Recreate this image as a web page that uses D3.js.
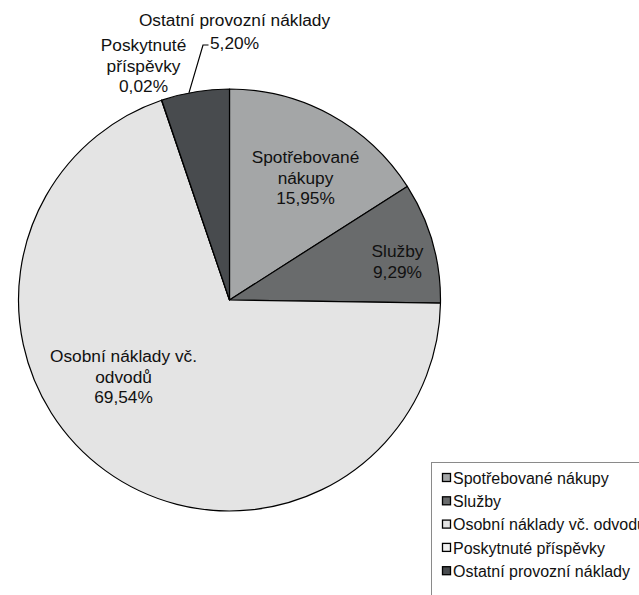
<!DOCTYPE html>
<html>
<head>
<meta charset="utf-8">
<script src="https://cdn.jsdelivr.net/npm/d3@7"></script>
<style>
  body { margin: 0; background: #fff; }
  svg { display: block; font-family: "Liberation Sans", Arial, sans-serif; }
</style>
</head>
<body>
<svg id="chart" width="639" height="595"></svg>
<script>
// data
var categories = ["Spotřebované nákupy", "Služby", "Osobní náklady vč. odvodů", "Poskytnuté příspěvky", "Ostatní provozní náklady"];
var values = [15.95, 9.29, 69.54, 0.02, 5.20];
var colors = ["#a4a6a7", "#696b6c", "#e4e4e4", "#f0f0f0", "#484b4e"];
// label lines as drawn on the chart
var labelLines = [
  ["Spotřebované", "nákupy", "15,95%"],
  ["Služby", "9,29%"],
  ["Osobní náklady vč.", "odvodů", "69,54%"],
  ["Poskytnuté", "příspěvky", "0,02%"],
  ["Ostatní provozní náklady", "5,20%"]
];

var width = 639, height = 595;
var cx = 229.5, cy = 300, radius = 211;

var svg = d3.select('#chart');

var pie = d3.pie().sort(null).value(function(d) { return d; });
var arcs = pie(values);
var arc = d3.arc().innerRadius(0).outerRadius(radius);

var g = svg.append('g').attr('transform', 'translate(' + cx + ',' + cy + ')');

g.selectAll('path')
  .data(arcs)
  .enter()
  .append('path')
  .attr('d', arc)
  .attr('fill', function(d, i) { return colors[i]; })
  .attr('stroke', '#000')
  .attr('stroke-width', 1.2)
  .attr('stroke-linejoin', 'round');

// label anchors (relative to pie centre), first line centre
var labelAt = [
  [76, -143],
  [168, -49],
  [-106, 56],
  [-86, -255],
  [5, -280]
];
var lineH = 20.5;

labelLines.forEach(function(lines, i) {
  var t = g.append('text')
    .attr('text-anchor', 'middle')
    .attr('font-size', 17.3)
    .attr('fill', '#111');
  lines.forEach(function(s, j) {
    t.append('tspan')
      .attr('x', labelAt[i][0])
      .attr('y', labelAt[i][1] + j * (i == 4 ? 23 : lineH) + 6)
      .text(s);
  });
});

// leader line for Ostatní provozní náklady
var mid = (arcs[4].startAngle + arcs[4].endAngle) / 2;
var edge = [Math.sin(mid - 0.03) * radius, -Math.cos(mid - 0.03) * radius];
g.append('path')
  .attr('d', 'M' + (edge[0]) + ',' + (edge[1]) + 'L' + (-26.5) + ',' + (-255) + 'L' + (-21) + ',' + (-255))
  .attr('fill', 'none')
  .attr('stroke', '#000')
  .attr('stroke-width', 1.2);

// legend
var lx = 431, ly = 462, rowH = 23.3;
svg.append('rect')
  .attr('x', lx + 0.5)
  .attr('y', ly + 0.5)
  .attr('width', 260)
  .attr('height', 160)
  .attr('fill', '#fff')
  .attr('stroke', '#8a8a8a')
  .attr('stroke-width', 1);

var items = svg.selectAll('g.legend')
  .data(categories)
  .enter()
  .append('g')
  .attr('class', 'legend')
  .attr('transform', function(d, i) {
    return 'translate(' + lx + ',' + (ly + 16 + i * rowH) + ')';
  });

items.append('rect')
  .attr('x', 11.5)
  .attr('y', -4.5)
  .attr('width', 8)
  .attr('height', 8)
  .attr('fill', function(d, i) { return colors[i]; })
  .attr('stroke', '#000')
  .attr('stroke-width', 1.3);

items.append('text')
  .attr('x', 22)
  .attr('y', 5.8)
  .attr('font-size', 16)
  .attr('fill', '#111')
  .text(function(d) { return d; });
</script>
</body>
</html>
